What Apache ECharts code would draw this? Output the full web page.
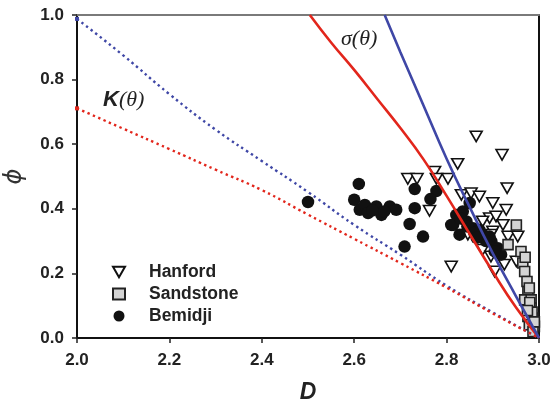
<!DOCTYPE html>
<html>
<head>
<meta charset="utf-8">
<script src="https://cdn.jsdelivr.net/npm/echarts@6/dist/echarts.min.js"></script>
<style>
html,body{margin:0;padding:0;background:#fff;}
#chart{width:554px;height:401px;}
</style>
</head>
<body>
<div id="chart"></div>
<script>
// ---- data ----
const xTicks = [2.0, 2.2, 2.4, 2.6, 2.8, 3.0];
const yTicks = [0.0, 0.2, 0.4, 0.6, 0.8, 1.0];

// K(theta) dotted curves
const kD = [2.0, 2.1, 2.2, 2.3, 2.4, 2.5, 2.6, 2.7, 2.8, 2.9, 3.0];
const kBlue = [0.988, 0.875, 0.755, 0.645, 0.548, 0.452, 0.350, 0.258, 0.162, 0.079, 0.0];
const kRed = [0.711, 0.648, 0.585, 0.521, 0.458, 0.382, 0.307, 0.232, 0.156, 0.076, 0.0];

// sigma(theta) solid curves
const sRedD = [2.504, 2.55, 2.6, 2.65, 2.7, 2.75, 2.8, 2.85, 2.9, 2.95, 3.0];
const sRed = [1.0, 0.915, 0.83, 0.74, 0.65, 0.553, 0.44, 0.322, 0.205, 0.095, 0.0];
const sBlueD = [2.666, 2.7, 2.75, 2.8, 2.85, 2.9, 2.95, 3.0];
const sBlue = [1.0, 0.885, 0.72, 0.555, 0.405, 0.262, 0.13, 0.0];

// Hanford (D, phi)
const hanfordD = [2.864, 2.920, 2.824, 2.931, 2.716, 2.736, 2.774, 2.778, 2.803, 2.832, 2.853, 2.871, 2.900, 2.929, 2.893, 2.907, 2.878, 2.933, 2.954, 2.878, 2.925, 2.904, 2.951, 2.810, 2.846, 2.763, 2.900, 2.922, 2.896, 2.896];
const hanfordPhi = [0.624, 0.567, 0.539, 0.464, 0.493, 0.493, 0.515, 0.493, 0.493, 0.443, 0.448, 0.438, 0.418, 0.397, 0.371, 0.376, 0.361, 0.314, 0.314, 0.273, 0.227, 0.206, 0.237, 0.221, 0.320, 0.394, 0.330, 0.350, 0.252, 0.320];

// Sandstone (D, phi)
const sandD = [2.951, 2.933, 2.961, 2.965, 2.969, 2.974, 2.976, 2.969, 2.983, 2.983, 2.976, 2.987, 2.979, 2.990, 2.987, 2.979, 2.970, 2.980, 2.985, 2.975, 2.990];
const sandPhi = [0.350, 0.289, 0.268, 0.232, 0.206, 0.175, 0.144, 0.118, 0.118, 0.093, 0.067, 0.062, 0.041, 0.036, 0.020, 0.155, 0.250, 0.110, 0.080, 0.085, 0.050];

// Bemidji (D, phi)
const bemD = [2.500, 2.610, 2.600, 2.612, 2.623, 2.630, 2.648, 2.659, 2.677, 2.691, 2.731, 2.731, 2.720, 2.709, 2.778, 2.765, 2.749, 2.821, 2.814, 2.835, 2.843, 2.828, 2.857, 2.878, 2.897, 2.911, 2.918, 2.850, 2.904, 2.810, 2.871, 2.893, 2.830, 2.845, 2.860, 2.885, 2.865, 2.640, 2.665];
const bemPhi = [0.421, 0.477, 0.428, 0.397, 0.412, 0.387, 0.407, 0.381, 0.407, 0.397, 0.461, 0.402, 0.353, 0.283, 0.455, 0.430, 0.314, 0.381, 0.350, 0.392, 0.361, 0.320, 0.340, 0.320, 0.299, 0.278, 0.258, 0.418, 0.268, 0.350, 0.335, 0.314, 0.370, 0.345, 0.325, 0.300, 0.310, 0.395, 0.392];

const zip = (a, b) => a.map((v, i) => [v, b[i]]);
const withStart = (a, b) => zip(a, b).map((p, i) => i === 0 ? {value: p, symbol: 'rect', symbolSize: 4} : {value: p, symbol: 'none'});

const RED = '#e2261c';
const BLUE = '#3f47a6';
const labelFont = {fontFamily: 'Liberation Sans', fontWeight: 'bold', fontSize: 17, color: '#222'};

const chart = echarts.init(document.getElementById('chart'), null, {renderer: 'canvas'});
const TRI = 'path://M0,0L10,0L5,8.7Z';

chart.setOption({
  animation: false,
  backgroundColor: '#fff',
  grid: {left: 77, right: 15, top: 15, bottom: 63, containLabel: false, outerBoundsMode: 'none'},
  xAxis: [{
    type: 'value', min: 2.0, max: 3.0, interval: 0.2,
    name: 'D', nameLocation: 'middle', nameGap: 43,
    nameTextStyle: {fontFamily: 'Liberation Sans', fontWeight: 'bold', fontStyle: 'italic', fontSize: 23, color: '#222'},
    axisLine: {lineStyle: {color: '#111', width: 2}},
    axisTick: {show: true, inside: false, length: 5, lineStyle: {color: '#222', width: 1.5}},
    axisLabel: Object.assign({margin: 14, formatter: v => v.toFixed(1)}, labelFont),
    splitLine: {show: false}
  }, {
    type: 'value', min: 2.0, max: 3.0, position: 'top',
    axisLine: {show: true, onZero: false, lineStyle: {color: '#7a7a7a', width: 2}},
    axisTick: {show: false}, axisLabel: {show: false}, splitLine: {show: false}
  }],
  yAxis: [{
    type: 'value', min: 0, max: 1.0, interval: 0.2,
    name: 'ϕ', nameLocation: 'middle', nameGap: 50, nameRotate: 90,
    nameTextStyle: {fontFamily: 'DejaVu Sans', fontStyle: 'italic', fontSize: 24, color: '#333'},
    axisLine: {lineStyle: {color: '#111', width: 2}},
    axisTick: {show: true, inside: false, length: 5, lineStyle: {color: '#222', width: 1.5}},
    axisLabel: Object.assign({margin: 13, formatter: v => v.toFixed(1)}, labelFont),
    splitLine: {show: false}
  }, {
    type: 'value', min: 0, max: 1.0, position: 'right',
    axisLine: {show: true, onZero: false, lineStyle: {color: '#111', width: 2}},
    axisTick: {show: false}, axisLabel: {show: false}, splitLine: {show: false}
  }],
  legend: {
    orient: 'vertical', left: 107, top: 258, itemGap: 4,
    itemWidth: 12, itemHeight: 11,
    textStyle: {fontFamily: 'Liberation Sans', fontWeight: 'bold', fontSize: 17.5, color: '#222', padding: [0, 0, 0, 19]},
    data: [
      {name: 'Hanford', icon: TRI},
      {name: 'Sandstone', icon: 'rect'},
      {name: 'Bemidji', icon: 'circle'}
    ]
  },
  series: [
    {
      name: 'Hanford', type: 'scatter', symbol: TRI, symbolSize: [12, 10.5],
      itemStyle: {color: '#fff', borderColor: '#111', borderWidth: 1.6, opacity: 1},
      data: zip(hanfordD, hanfordPhi), z: 3
    },
    {
      name: 'Bemidji', type: 'scatter', symbol: 'circle', symbolSize: 12.5,
      itemStyle: {color: '#111', borderColor: '#111', borderWidth: 0, opacity: 1},
      data: zip(bemD, bemPhi), z: 3
    },
    {
      name: 'Sandstone', type: 'scatter', symbol: 'rect', symbolSize: 10,
      itemStyle: {color: '#d4d4d4', borderColor: '#222', borderWidth: 1.6, opacity: 1},
      data: zip(sandD, sandPhi), z: 4
    },
    {
      name: 'kBlue', type: 'line', smooth: true, showSymbol: true, symbol: 'none',
      itemStyle: {color: BLUE},
      lineStyle: {color: BLUE, width: 2.4, type: [2.4, 3.4]},
      data: withStart(kD, kBlue), z: 5, silent: true
    },
    {
      name: 'kRed', type: 'line', smooth: true, showSymbol: true, symbol: 'none',
      itemStyle: {color: RED},
      lineStyle: {color: RED, width: 2.4, type: [2.4, 3.4]},
      data: withStart(kD, kRed), z: 5, silent: true
    },
    {
      name: 'sRed', type: 'line', smooth: true, showSymbol: false, symbol: 'none',
      lineStyle: {color: RED, width: 2.6},
      data: zip(sRedD, sRed), z: 6, silent: true
    },
    {
      name: 'sBlue', type: 'line', smooth: true, showSymbol: false, symbol: 'none',
      lineStyle: {color: BLUE, width: 2.6},
      data: zip(sBlueD, sBlue), z: 6, silent: true
    }
  ],
  graphic: [
    {
      type: 'text', left: 103, top: 89, z: 10,
      style: {
        text: '{k|K}{t|(θ)}',
        rich: {
          k: {fontFamily: 'Liberation Sans', fontWeight: 'bold', fontStyle: 'italic', fontSize: 22, fill: '#222'},
          t: {fontFamily: 'Liberation Serif', fontStyle: 'italic', fontSize: 22, fill: '#222'}
        }
      }
    },
    {
      type: 'text', left: 341, top: 28, z: 10,
      style: {
        text: 'σ(θ)',
        font: 'italic 22px "Liberation Serif"', fill: '#222'
      }
    }
  ]
});
</script>
</body>
</html>
